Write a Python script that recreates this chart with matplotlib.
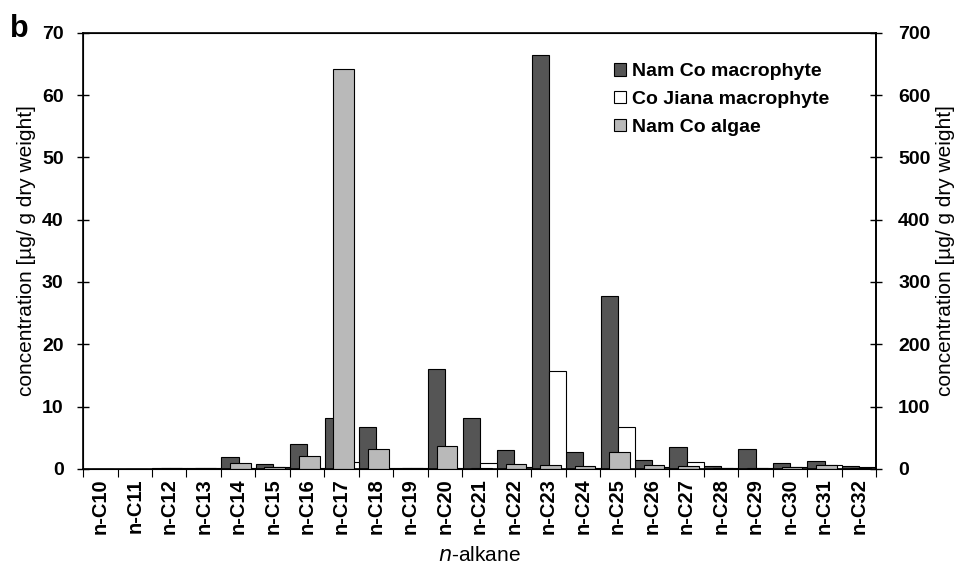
import numpy as np
import matplotlib.pyplot as plt

plt.rcParams['font.family'] = ['Liberation Sans', 'DejaVu Sans']

# n-alkane categories
labels = ['n-C10', 'n-C11', 'n-C12', 'n-C13', 'n-C14', 'n-C15', 'n-C16', 'n-C17',
          'n-C18', 'n-C19', 'n-C20', 'n-C21', 'n-C22', 'n-C23', 'n-C24', 'n-C25',
          'n-C26', 'n-C27', 'n-C28', 'n-C29', 'n-C30', 'n-C31', 'n-C32']

# concentrations [ug/g dry weight]
nam_co_macro = [0.0, 0.0, 0.2, 0.15, 1.9, 0.8, 4.0, 8.1, 6.7, 0.2, 16.0, 8.2,
                3.0, 66.4, 2.7, 27.7, 1.5, 3.5, 0.4, 3.2, 0.9, 1.3, 0.4]
co_jiana_macro = [0.0, 0.0, 0.1, 0.2, 0.1, 0.3, 0.1, 1.1, 0.1, 0.1, 0.1, 1.0,
                  0.3, 15.7, 0.2, 6.8, 0.3, 1.1, 0.1, 0.2, 0.3, 0.6, 0.3]
nam_co_algae = [0.0, 0.0, 0.1, 0.1, 1.0, 0.3, 2.0, 64.2, 3.2, 0.1, 3.7, 0.1,
                0.8, 0.7, 0.5, 2.7, 0.6, 0.5, 0.1, 0.1, 0.3, 0.6, 0.2]

x = np.arange(len(labels))

fig = plt.figure(figsize=(9.6, 5.76), dpi=100)
ax = fig.add_axes([0.0865, 0.186, 0.826, 0.757])

# dark and white bars side by side, grey one on top in the middle
ax.bar(x - 0.24, nam_co_macro, width=0.5, color='#555555', edgecolor='black',
       linewidth=0.8, label='Nam Co macrophyte', zorder=2)
ax.bar(x + 0.26, co_jiana_macro, width=0.5, color='white', edgecolor='black',
       linewidth=0.8, label='Co Jiana macrophyte', zorder=2)
ax.bar(x + 0.06, nam_co_algae, width=0.6, color='#b9b9b9', edgecolor='black',
       linewidth=0.8, label='Nam Co algae', zorder=3)

ax.set_xlim(-0.5, len(labels) - 0.5)
ax.set_ylim(0, 70)
ax.set_yticks(range(0, 71, 10))
ax.tick_params(axis='y', direction='inout', length=8, width=1, labelsize=14, pad=10)
for t in ax.get_yticklabels():
    t.set_fontweight('bold')

# category ticks sit at the boundaries, labels in the middle
ax.set_xticks(np.arange(-0.5, len(labels), 1.0))
ax.set_xticklabels([])
ax.set_xticks(x, minor=True)
ax.set_xticklabels(labels, minor=True, rotation=90, fontsize=14.5, fontweight='bold')
ax.tick_params(axis='x', which='major', direction='out', length=6, width=0.8)
ax.tick_params(axis='x', which='minor', length=0, pad=7)

for s in ax.spines.values():
    s.set_linewidth(1.2)

ax2 = ax.twinx()
ax2.set_ylim(0, 700)
ax2.set_yticks(range(0, 701, 100))
ax2.tick_params(axis='y', direction='inout', length=8, width=1, labelsize=14, pad=12)
for t in ax2.get_yticklabels():
    t.set_fontweight('bold')
ax2.spines['right'].set_linewidth(1.2)

ax.set_ylabel('concentration [µg/ g dry weight]', fontsize=15, labelpad=4)
ax2.set_ylabel('concentration [µg/ g dry weight]', fontsize=15, labelpad=4)
ax.set_xlabel('$\\mathit{n}$-alkane', fontsize=15, labelpad=8)

ax.legend(loc='upper right', bbox_to_anchor=(0.963, 0.97), frameon=False,
          prop={'weight': 'bold', 'size': 14}, handlelength=0.6, handleheight=0.6,
          handletextpad=0.3, labelspacing=0.55)

fig.text(0.01, 0.935, 'b', fontsize=22, fontweight='bold')

fig.savefig('out.png', dpi=100)
